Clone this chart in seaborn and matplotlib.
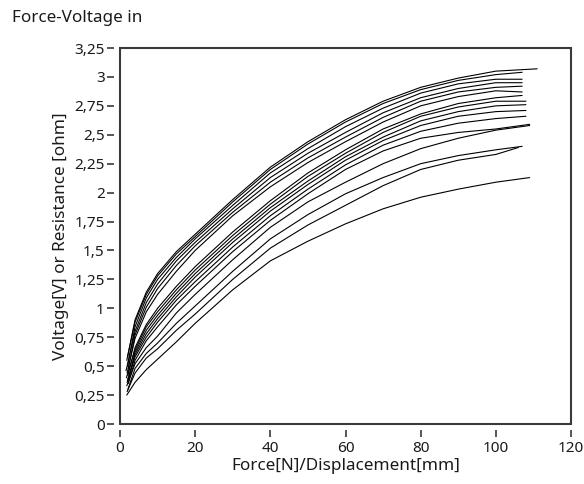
import numpy as np
import pandas as pd
import matplotlib
matplotlib.use("Agg")
import matplotlib.pyplot as plt
from matplotlib.patches import Rectangle
import seaborn as sns

# ---- data (x in N/mm, y in V/ohm) ----
x_common = [4, 7, 10, 15, 20, 30, 40, 50, 60, 70, 80, 90, 100]
start_x = [2.0, 1.8, 2.0, 1.6, 2.2, 1.9, 2.1, 1.7, 2.3, 1.9, 2.0, 2.2, 1.8, 2.1, 1.9, 1.8]
end_x = [111, 107, 107, 107, 107, 107, 107, 108, 108, 108, 108, 109, 109, 107, 106, 109]
start_y = [0.58, 0.55, 0.50, 0.46, 0.48, 0.44, 0.42, 0.40, 0.38, 0.36, 0.38, 0.35, 0.33, 0.30, 0.28, 0.25]
end_y = [3.07, 3.04, 2.98, 2.95, 2.92, 2.87, 2.84, 2.79, 2.76, 2.71, 2.66, 2.59, 2.58, 2.40, 2.39, 2.13]
curve_values = [
    [0.90, 1.14, 1.30, 1.49, 1.64, 1.94, 2.22, 2.44, 2.63, 2.79, 2.91, 2.99, 3.05],
    [0.88, 1.12, 1.28, 1.47, 1.62, 1.92, 2.20, 2.42, 2.61, 2.77, 2.89, 2.97, 3.02],
    [0.84, 1.09, 1.25, 1.44, 1.60, 1.89, 2.17, 2.38, 2.57, 2.73, 2.86, 2.94, 2.98],
    [0.80, 1.05, 1.21, 1.41, 1.57, 1.86, 2.13, 2.34, 2.52, 2.69, 2.82, 2.90, 2.95],
    [0.77, 1.01, 1.17, 1.37, 1.54, 1.83, 2.09, 2.30, 2.48, 2.65, 2.79, 2.87, 2.91],
    [0.74, 0.97, 1.12, 1.32, 1.50, 1.80, 2.05, 2.26, 2.44, 2.61, 2.75, 2.83, 2.88],
    [0.66, 0.86, 1.00, 1.19, 1.36, 1.66, 1.93, 2.17, 2.37, 2.55, 2.68, 2.77, 2.82],
    [0.64, 0.84, 0.97, 1.16, 1.33, 1.63, 1.90, 2.14, 2.34, 2.52, 2.66, 2.74, 2.79],
    [0.62, 0.81, 0.94, 1.13, 1.30, 1.60, 1.87, 2.10, 2.31, 2.48, 2.62, 2.70, 2.75],
    [0.60, 0.78, 0.91, 1.10, 1.27, 1.57, 1.84, 2.07, 2.28, 2.45, 2.58, 2.66, 2.70],
    [0.58, 0.75, 0.88, 1.07, 1.23, 1.53, 1.80, 2.03, 2.24, 2.41, 2.53, 2.60, 2.64],
    [0.55, 0.72, 0.84, 1.03, 1.19, 1.49, 1.76, 1.99, 2.20, 2.36, 2.47, 2.52, 2.55],
    [0.52, 0.66, 0.76, 0.96, 1.12, 1.42, 1.70, 1.92, 2.09, 2.25, 2.38, 2.47, 2.54],
    [0.48, 0.61, 0.70, 0.87, 1.02, 1.32, 1.60, 1.81, 1.99, 2.13, 2.25, 2.32, 2.37],
    [0.44, 0.57, 0.65, 0.81, 0.95, 1.25, 1.52, 1.72, 1.89, 2.06, 2.20, 2.28, 2.33],
    [0.36, 0.47, 0.56, 0.71, 0.87, 1.16, 1.41, 1.58, 1.73, 1.86, 1.96, 2.03, 2.09],
]
x_ticks = [0, 20, 40, 60, 80, 100, 120]
x_tick_labels = ["0", "20", "40", "60", "80", "100", "120"]
y_ticks = [0, 0.25, 0.5, 0.75, 1, 1.25, 1.5, 1.75, 2, 2.25, 2.5, 2.75, 3, 3.25]
y_tick_labels = ["0", "0,25", "0,5", "0,75", "1", "1,25", "1,5", "1,75", "2",
                 "2,25", "2,5", "2,75", "3", "3,25"]

rows = []
for i, vals in enumerate(curve_values):
    xs = [start_x[i]] + x_common + [end_x[i]]
    ys = [start_y[i]] + vals + [end_y[i]]
    for xv, yv in zip(xs, ys):
        rows.append({"curve": i, "x": xv, "y": yv})
df = pd.DataFrame(rows)

sns.set_theme(style="white")
plt.rcParams["font.family"] = ["Noto Sans", "DejaVu Sans"]
text_color = "#1a1a1a"

fig = plt.figure(figsize=(5.84, 4.84), dpi=100)
fig.patch.set_facecolor("white")
ax = fig.add_axes([120 / 584, 1 - 424 / 484, 451 / 584, 376 / 484])

sns.lineplot(data=df, x="x", y="y", units="curve", estimator=None, sort=False,
             color="black", linewidth=0.8, ax=ax, legend=False)

ax.set_xlim(0, 120)
ax.set_ylim(0, 3.25)
ax.set_xticks(x_ticks)
ax.set_xticklabels(x_tick_labels)
ax.set_yticks(y_ticks)
ax.set_yticklabels(y_tick_labels)

for s in ["top", "right"]:
    ax.spines[s].set_visible(False)
for s in ["left", "bottom"]:
    ax.spines[s].set_position(("outward", 4))
    ax.spines[s].set_color("none")
ax.add_patch(Rectangle((0, 0), 1, 1, transform=ax.transAxes, fill=False,
                       edgecolor="#3a3a3a", linewidth=1.5, clip_on=False, zorder=5))

ax.tick_params(axis="both", which="major", direction="out", length=5, width=1.2,
               color="#3a3a3a", labelsize=11, labelcolor=text_color,
               left=True, bottom=True)
ax.tick_params(axis="y", pad=2)
ax.tick_params(axis="x", pad=3)

ax.set_xlabel("Force[N]/Displacement[mm]", fontsize=12.3, color=text_color, labelpad=2)
ax.set_ylabel("Voltage[V] or Resistance [ohm]", fontsize=12.3, color=text_color, labelpad=4)

fig.text(12 / 584, 1 - 18 / 484, "Force-Voltage in", fontsize=12.3, color=text_color,
         ha="left", va="center")

fig.savefig("out.png", dpi=100, facecolor="white")
